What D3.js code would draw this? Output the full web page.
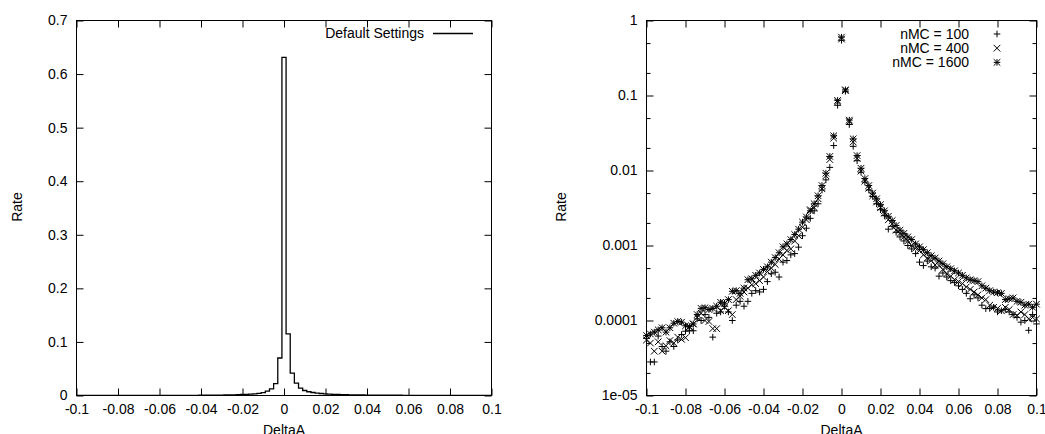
<!DOCTYPE html>
<html>
<head>
<meta charset="utf-8">
<script src="https://cdn.jsdelivr.net/npm/d3@7"></script>
<style>
  html, body { margin: 0; padding: 0; background: #fff; }
  svg { display: block; }
  text { font-family: "Liberation Sans", Arial, Helvetica, sans-serif; fill: #000; }
</style>
</head>
<body>
<svg id="chart" width="1045" height="434"></svg>
<script>
// ---------------- DATA ----------------
const binCenters = [
  -0.100,-0.098,-0.096,-0.094,-0.092,-0.090,-0.088,-0.086,-0.084,-0.082,
  -0.080,-0.078,-0.076,-0.074,-0.072,-0.070,-0.068,-0.066,-0.064,-0.062,
  -0.060,-0.058,-0.056,-0.054,-0.052,-0.050,-0.048,-0.046,-0.044,-0.042,
  -0.040,-0.038,-0.036,-0.034,-0.032,-0.030,-0.028,-0.026,-0.024,-0.022,
  -0.020,-0.018,-0.016,-0.014,-0.012,-0.010,-0.008,-0.006,-0.004,-0.002,
   0.000, 0.002, 0.004, 0.006, 0.008, 0.010, 0.012, 0.014, 0.016, 0.018,
   0.020, 0.022, 0.024, 0.026, 0.028, 0.030, 0.032, 0.034, 0.036, 0.038,
   0.040, 0.042, 0.044, 0.046, 0.048, 0.050, 0.052, 0.054, 0.056, 0.058,
   0.060, 0.062, 0.064, 0.066, 0.068, 0.070, 0.072, 0.074, 0.076, 0.078,
   0.080, 0.082, 0.084, 0.086, 0.088, 0.090, 0.092, 0.094, 0.096, 0.098,
   0.100
];
const binWidth = 0.002;

// Left panel: histogram "Default Settings"
const defaultRate = [
  6e-5,6e-5,7e-5,7e-5,8e-5,7e-5,8e-5,9e-5,9e-5,9e-5,
  8e-5,8e-5,9e-5,1.1e-4,1.3e-4,1.4e-4,1.3e-4,1.2e-4,1.4e-4,1.6e-4,
  1.6e-4,1.7e-4,2.1e-4,2.3e-4,2.2e-4,2.5e-4,3.1e-4,3.3e-4,3.6e-4,3.9e-4,
  4.4e-4,4.8e-4,5.6e-4,6.3e-4,7.2e-4,8.6e-4,9.6e-4,1.1e-3,1.3e-3,1.5e-3,
  1.9e-3,2.2e-3,2.6e-3,3.2e-3,4.0e-3,5.5e-3,8.0e-3,0.0124,0.022,0.070,
  0.631,0.115,0.0417,0.023,0.0137,0.0093,0.0070,0.0056,0.0045,0.0037,
  0.0031,0.0026,0.0022,0.0019,0.0016,0.0014,0.0013,0.0011,0.0010,9.3e-4,
  8.5e-4,7.7e-4,7.0e-4,6.4e-4,5.9e-4,5.4e-4,5.0e-4,4.6e-4,4.3e-4,4.0e-4,
  3.7e-4,3.5e-4,3.2e-4,3.0e-4,2.9e-4,2.7e-4,2.5e-4,2.3e-4,2.2e-4,2.1e-4,
  2.0e-4,1.9e-4,1.7e-4,1.7e-4,1.6e-4,1.5e-4,1.5e-4,1.4e-4,1.3e-4,1.3e-4,
  1.3e-4
];

// Right panel: three series
const rate100 = [
  5.8e-5,2.8e-5,2.8e-5,6.2e-5,4.5e-5,3.9e-5,5.2e-5,4.5e-5,5.5e-5,6.5e-5,
  7.2e-5,7.3e-5,7.3e-5,1.05e-4,1.0e-4,1.2e-4,1.1e-4,6.0e-5,1.25e-4,1.3e-4,
  1.55e-4,1.3e-4,1.0e-4,1.6e-4,1.8e-4,1.55e-4,1.8e-4,2.3e-4,2.5e-4,2.4e-4,
  2.6e-4,3.3e-4,4.2e-4,4.4e-4,3.8e-4,6.0e-4,6.3e-4,7.5e-4,7.8e-4,9.5e-4,
  1.35e-3,1.7e-3,2.3e-3,2.9e-3,3.6e-3,5.5e-3,7.5e-3,0.011,0.0215,0.074,
  0.545,0.114,0.041,0.021,0.0135,9.5e-3,7.0e-3,5.5e-3,4.5e-3,3.6e-3,
  3.0e-3,2.5e-3,1.65e-3,1.8e-3,1.5e-3,1.3e-3,1.15e-3,1.0e-3,9.0e-4,7.8e-4,
  6.0e-4,5.4e-4,6.2e-4,5.2e-4,5.0e-4,3.9e-4,4.3e-4,3.8e-4,3.4e-4,3.2e-4,
  2.9e-4,2.6e-4,2.3e-4,1.95e-4,2.2e-4,2.0e-4,1.6e-4,1.44e-4,1.45e-4,1.5e-4,
  1.3e-4,1.35e-4,1.4e-4,1.3e-4,1.2e-4,1.1e-4,9.5e-5,1.0e-4,7.4e-5,1.2e-4,
  9.0e-5
];
const rate400 = [
  5.5e-5,5.0e-5,3.9e-5,5.2e-5,3.9e-5,4.6e-5,5.4e-5,5.0e-5,6.0e-5,5.6e-5,
  5.9e-5,8.2e-5,9.0e-5,1.1e-4,1.25e-4,1.0e-4,9.7e-5,7.8e-5,7.8e-5,1.35e-4,
  1.5e-4,1.35e-4,1.2e-4,1.9e-4,2.1e-4,2.4e-4,2.7e-4,3.0e-4,3.1e-4,3.4e-4,
  3.8e-4,4.5e-4,5.0e-4,5.6e-4,6.6e-4,7.5e-4,8.6e-4,9.0e-4,1.15e-3,1.35e-3,
  1.75e-3,2.2e-3,3.0e-3,3.2e-3,4.2e-3,5.7e-3,8.5e-3,0.014,0.027,0.082,
  0.565,0.116,0.045,0.024,0.0145,0.0098,7.2e-3,5.8e-3,4.6e-3,3.8e-3,
  3.2e-3,2.7e-3,2.2e-3,1.95e-3,1.6e-3,1.45e-3,1.3e-3,1.15e-3,1.0e-3,9.2e-4,
  8.6e-4,7.5e-4,6.8e-4,6.3e-4,5.5e-4,5.4e-4,4.8e-4,4.2e-4,3.9e-4,3.5e-4,
  3.3e-4,3.1e-4,2.8e-4,2.6e-4,2.4e-4,2.2e-4,2.0e-4,1.9e-4,1.6e-4,1.5e-4,
  1.45e-4,1.35e-4,1.5e-4,1.4e-4,1.2e-4,1.17e-4,1.3e-4,1.2e-4,1.05e-4,1.1e-4,
  1.05e-4
];
const rate1600 = [
  6.3e-5,6.6e-5,7.0e-5,7.5e-5,8.0e-5,7.0e-5,8.0e-5,9.2e-5,9.7e-5,9.5e-5,
  8.5e-5,8.3e-5,9.0e-5,1.2e-4,1.45e-4,1.48e-4,1.40e-4,1.45e-4,1.55e-4,1.75e-4,
  1.70e-4,1.9e-4,2.45e-4,2.5e-4,2.3e-4,2.7e-4,3.5e-4,3.6e-4,4.0e-4,4.3e-4,
  4.8e-4,5.2e-4,6.0e-4,6.9e-4,8.0e-4,9.6e-4,1.05e-3,1.2e-3,1.4e-3,1.65e-3,
  2.05e-3,2.4e-3,2.9e-3,3.6e-3,4.6e-3,6.3e-3,9.2e-3,0.0154,0.029,0.086,
  0.60,0.119,0.047,0.0264,0.0158,0.0107,7.8e-3,6.3e-3,5.0e-3,4.2e-3,
  3.5e-3,2.9e-3,2.45e-3,2.15e-3,1.85e-3,1.6e-3,1.45e-3,1.3e-3,1.2e-3,1.05e-3,
  9.6e-4,8.8e-4,8.0e-4,7.3e-4,6.8e-4,6.2e-4,5.7e-4,5.2e-4,4.9e-4,4.6e-4,
  4.3e-4,4.0e-4,3.7e-4,3.5e-4,3.4e-4,3.3e-4,2.9e-4,2.7e-4,2.5e-4,2.4e-4,
  2.35e-4,2.3e-4,1.9e-4,1.95e-4,2.0e-4,1.8e-4,1.75e-4,1.6e-4,1.65e-4,1.5e-4,
  1.65e-4
];

const seriesNames = ["nMC = 100", "nMC = 400", "nMC = 1600"];
const seriesMarkers = ["plus", "cross", "star"];

const xTicks = [-0.1,-0.08,-0.06,-0.04,-0.02,0,0.02,0.04,0.06,0.08,0.1];
const xTickLabels = ["-0.1","-0.08","-0.06","-0.04","-0.02","0","0.02","0.04","0.06","0.08","0.1"];
const yLinTicks = [0,0.1,0.2,0.3,0.4,0.5,0.6,0.7];
const yLinTickLabels = ["0","0.1","0.2","0.3","0.4","0.5","0.6","0.7"];
const yLogTicks = [1e-5,1e-4,1e-3,1e-2,1e-1,1];
const yLogTickLabels = ["1e-05","0.0001","0.001","0.01","0.1","1"];
const yLogMinorTicks = [2e-5,5e-5,2e-4,5e-4,2e-3,5e-3,2e-2,5e-2,0.2,0.5];

const leftTitle = "Default Settings";
const xTitle = "DeltaA";
const yTitle = "Rate";

// ---------------- DRAW ----------------
const svg = d3.select("#chart");
const FONT = 14;

function styleAxis(g) {
  g.select(".domain").remove();
  g.selectAll("line").attr("stroke", "#000").attr("stroke-width", 1);
  g.selectAll("text").attr("font-size", FONT).attr("fill", "#000")
    .attr("font-family", "'Liberation Sans', Arial, Helvetica, sans-serif");
  g.attr("font-size", null).attr("font-family", null);
}

function drawFrame(L, R, T, B, xScale, yScale, yTicks, yLabels, minor) {
  const gb = svg.append("g").attr("transform", `translate(0,${B})`)
    .call(d3.axisBottom(xScale).tickValues(xTicks)
      .tickFormat((d, i) => xTickLabels[i]).tickSize(-7).tickPadding(9));
  styleAxis(gb);
  const gt = svg.append("g").attr("transform", `translate(0,${T})`)
    .call(d3.axisTop(xScale).tickValues(xTicks).tickFormat("").tickSize(-7));
  styleAxis(gt);
  const gl = svg.append("g").attr("transform", `translate(${L},0)`)
    .call(d3.axisLeft(yScale).tickValues(yTicks)
      .tickFormat((d, i) => yLabels[i]).tickSize(-7).tickPadding(9));
  styleAxis(gl);
  const gr = svg.append("g").attr("transform", `translate(${R},0)`)
    .call(d3.axisRight(yScale).tickValues(yTicks).tickFormat("").tickSize(-7));
  styleAxis(gr);
  if (minor) {
    const gml = svg.append("g").attr("transform", `translate(${L},0)`)
      .call(d3.axisLeft(yScale).tickValues(minor).tickFormat("").tickSize(-4));
    styleAxis(gml);
    const gmr = svg.append("g").attr("transform", `translate(${R},0)`)
      .call(d3.axisRight(yScale).tickValues(minor).tickFormat("").tickSize(-4));
    styleAxis(gmr);
  }
  svg.append("rect")
    .attr("x", L).attr("y", T).attr("width", R - L).attr("height", B - T)
    .attr("fill", "none").attr("stroke", "#000").attr("stroke-width", 1);
  svg.append("text").attr("x", (L + R) / 2).attr("y", 435)
    .attr("text-anchor", "middle").attr("font-size", FONT).text(xTitle);
}

// ---- Left panel ----
const LL = 76.5, LR = 491.5, LT = 20.5, LB = 395.5;
const xL = d3.scaleLinear().domain([-0.1, 0.1]).range([LL, LR]);
const yL = d3.scaleLinear().domain([0, 0.7]).range([LB, LT]);

svg.append("defs").append("clipPath").attr("id", "clipL")
  .append("rect").attr("x", LL).attr("y", LT).attr("width", LR - LL).attr("height", LB - LT);

const histPts = [];
binCenters.forEach((c, i) => {
  histPts.push([c - binWidth / 2, defaultRate[i]]);
  histPts.push([c + binWidth / 2, defaultRate[i]]);
});
const histLine = d3.line().x(d => xL(d[0])).y(d => yL(d[1]));
svg.append("path").attr("clip-path", "url(#clipL)")
  .attr("d", histLine(histPts))
  .attr("fill", "none").attr("stroke", "#000").attr("stroke-width", 1.3);

drawFrame(LL, LR, LT, LB, xL, yL, yLinTicks, yLinTickLabels, null);
svg.append("text").attr("transform", "translate(22,207) rotate(-90)")
  .attr("text-anchor", "middle").attr("font-size", FONT).text(yTitle);

svg.append("text").attr("x", 424).attr("y", 38)
  .attr("text-anchor", "end").attr("font-size", FONT).text(leftTitle);
svg.append("line").attr("x1", 433).attr("x2", 473).attr("y1", 33.5).attr("y2", 33.5)
  .attr("stroke", "#000").attr("stroke-width", 1.3);

// ---- Right panel ----
const RL = 646.5, RR = 1036.5, RT = 20.5, RB = 395.5;
const xR = d3.scaleLinear().domain([-0.1, 0.1]).range([RL, RR]);
const yR = d3.scaleLog().domain([1e-5, 1]).range([RB, RT]);

drawFrame(RL, RR, RT, RB, xR, yR, yLogTicks, yLogTickLabels, yLogMinorTicks);
svg.append("text").attr("transform", "translate(566,207) rotate(-90)")
  .attr("text-anchor", "middle").attr("font-size", FONT).text(yTitle);

const MS = 3.3;
function marker(g, type, x, y) {
  const parts = [];
  if (type === "plus" || type === "star") {
    parts.push(`M${x - MS},${y}H${x + MS}M${x},${y - MS}V${y + MS}`);
  }
  if (type === "cross" || type === "star") {
    parts.push(`M${x - MS},${y - MS}L${x + MS},${y + MS}M${x - MS},${y + MS}L${x + MS},${y - MS}`);
  }
  g.append("path").attr("d", parts.join(""))
    .attr("fill", "none").attr("stroke", "#000").attr("stroke-width", 1);
}

const seriesData = [rate100, rate400, rate1600];
seriesData.forEach((vals, s) => {
  const g = svg.append("g");
  binCenters.forEach((c, i) => {
    marker(g, seriesMarkers[s], xR(c), yR(vals[i]));
  });
});

seriesNames.forEach((name, s) => {
  const yc = 34 + s * 14.2;
  svg.append("text").attr("x", 969).attr("y", yc + 5)
    .attr("text-anchor", "end").attr("font-size", FONT).text(name);
  marker(svg, seriesMarkers[s], 997, yc);
});
</script>
</body>
</html>
